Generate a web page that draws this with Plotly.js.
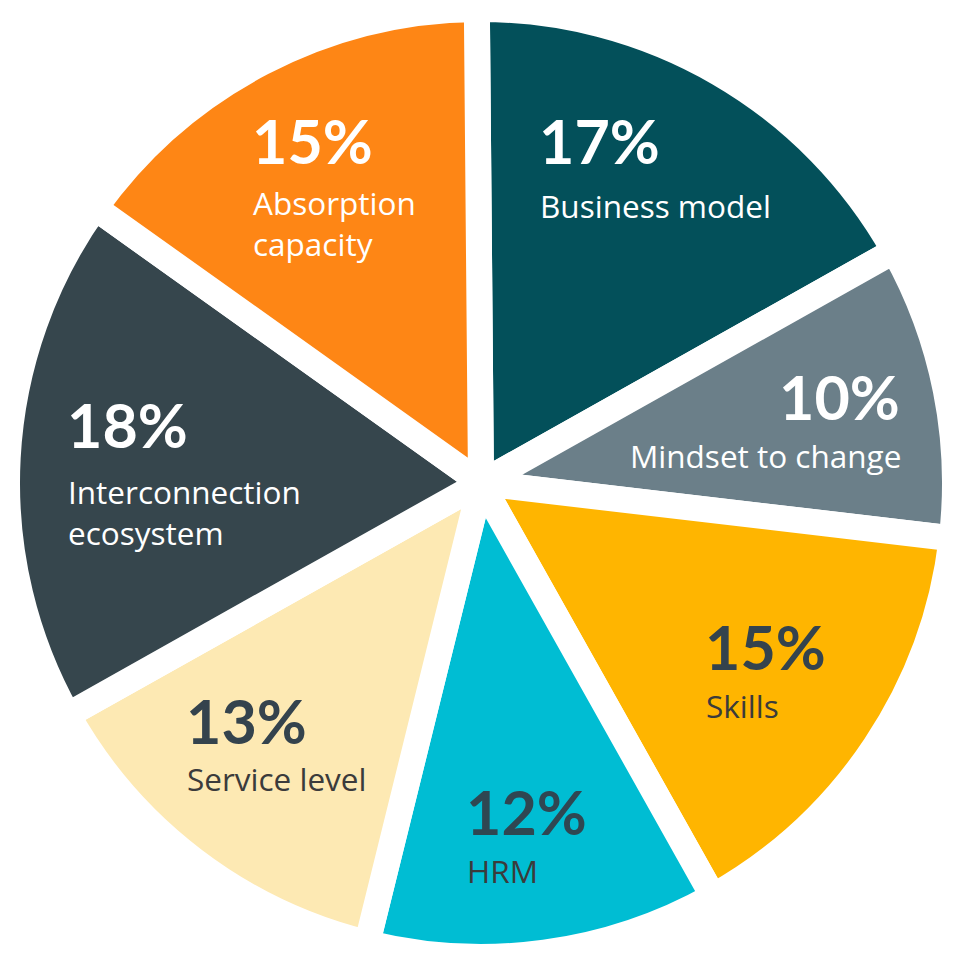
<!DOCTYPE html>
<html>
<head>
<meta charset="utf-8">
<script src="https://cdn.plot.ly/plotly-3.0.1.min.js"></script>
<style>
  html, body { margin: 0; padding: 0; background: #ffffff; overflow: hidden; }
  #chart { width: 955px; height: 971px; }
</style>
</head>
<body>
<div id="chart"></div>
<script>
// ---- data ----
var categories = ["Business model", "Mindset to change", "Skills", "HRM", "Service level", "Interconnection ecosystem", "Absorption capacity"];
var values = [17, 10, 15, 12, 13, 18, 15];
var labelLines = [["Business model"], ["Mindset to change"], ["Skills"], ["HRM"], ["Service level"], ["Interconnection", "ecosystem"], ["Absorption", "capacity"]];

// ---- styles ----
var sliceColors = ["#03505a", "#6b7f89", "#ffb500", "#00bdd3", "#fde9b3", "#36464d", "#fe8615"];
var pctColors = ["#ffffff", "#ffffff", "#34434d", "#2f4752", "#34434d", "#ffffff", "#ffffff"];
var lblColors = ["#ffffff", "#ffffff", "#3b3b3b", "#3b3b3b", "#3b3b3b", "#ffffff", "#ffffff"];

// text placement (pixels in the 955x971 page): anchor x, percent baseline, first label baseline, alignment
var textX = [537, 902, 703, 464, 184, 65, 250];
var pctBase = [162, 418, 668, 833, 742, 446, 162];
var lblBase = [217, 467, 717, 882, 790, 503, 214];
var textAlign = ["left", "right", "left", "left", "left", "left", "left"];

var W = 955, H = 971;
var pctSize = 61, lblSize = 31.5, lineGap = 41;

var annotations = [];
for (var i = 0; i < categories.length; i++) {
  annotations.push({
    xref: "paper", yref: "paper",
    x: textX[i] / W, y: 1 - (pctBase[i] - 0.36 * pctSize) / H,
    xanchor: textAlign[i], yanchor: "middle",
    text: "<b>" + values[i] + "%</b>",
    showarrow: false,
    font: { family: "Lato, 'Open Sans', sans-serif", size: pctSize, color: pctColors[i] }
  });
  for (var j = 0; j < labelLines[i].length; j++) {
    var base = lblBase[i] + j * lineGap;
    annotations.push({
      xref: "paper", yref: "paper",
      x: (textX[i] + 1) / W, y: 1 - (base - 0.36 * lblSize) / H,
      xanchor: textAlign[i], yanchor: "middle",
      text: labelLines[i][j],
      showarrow: false,
      font: { family: "'Open Sans', sans-serif", size: lblSize, color: lblColors[i] }
    });
  }
}

var trace = {
  type: "pie",
  labels: categories,
  values: values,
  sort: false,
  direction: "clockwise",
  rotation: -0.5,
  marker: { colors: sliceColors, line: { color: "#ffffff", width: 26 } },
  textinfo: "none",
  hoverinfo: "label+percent",
  domain: { x: [7 / W, 1], y: [1 - 957 / H, 1 - 9 / H] }
};

var layout = {
  width: W, height: H,
  margin: { l: 0, r: 0, t: 0, b: 0, pad: 0 },
  paper_bgcolor: "#ffffff",
  plot_bgcolor: "#ffffff",
  showlegend: false,
  annotations: annotations
};

Plotly.newPlot("chart", [trace], layout, { displayModeBar: false, staticPlot: true });
</script>
</body>
</html>
